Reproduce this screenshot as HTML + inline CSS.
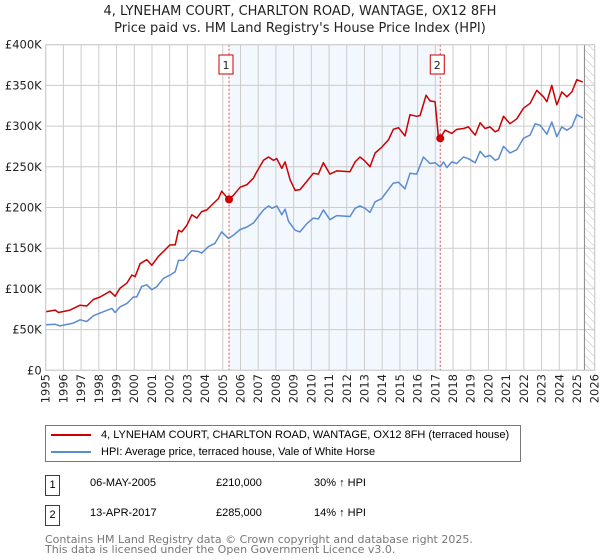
<!DOCTYPE html>
<html><head><meta charset="utf-8"><style>
body{margin:0;background:#fff;font-family:"DejaVu Sans","Liberation Sans",sans-serif;}
#wrap{position:relative;width:600px;height:560px;overflow:hidden;}
.t{position:absolute;white-space:nowrap;}
.ls{font-family:"Liberation Sans",sans-serif;}
</style></head><body>
<div id="wrap">
<div class="t" style="left:0;width:600px;text-align:center;top:3px;font-size:13px;color:#222;line-height:17px">4, LYNEHAM COURT, CHARLTON ROAD, WANTAGE, OX12 8FH<br>Price paid vs. HM Land Registry's House Price Index (HPI)</div>
<svg id="chart" width="600" height="420" style="position:absolute;left:0;top:0"></svg>
<div style="position:absolute;left:45px;top:425px;width:474px;height:35px;border:1px solid #777;">
 <div class="ls" style="position:absolute;left:5px;top:2px;font-size:11px;line-height:14px;white-space:nowrap"><span style="display:inline-block;width:40px;height:2px;background:#cc0000;vertical-align:middle;margin-right:10px"></span>4, LYNEHAM COURT, CHARLTON ROAD, WANTAGE, OX12 8FH (terraced house)</div>
 <div class="ls" style="position:absolute;left:5px;top:19px;font-size:11px;line-height:14px;white-space:nowrap"><span style="display:inline-block;width:40px;height:2px;background:#5b8bd0;vertical-align:middle;margin-right:10px"></span>HPI: Average price, terraced house, Vale of White Horse</div>
</div>
<div>
 <div class="t ls" style="left:45px;top:475px;width:13px;height:19px;border:1px solid #cc0000;font-size:11px;text-align:center;line-height:19px">1</div>
 <div class="t ls" style="left:90px;top:477px;font-size:11px">06-MAY-2005</div>
 <div class="t ls" style="left:216px;top:477px;font-size:11px">£210,000</div>
 <div class="t ls" style="left:314px;top:477px;font-size:11px">30% ↑ HPI</div>
</div>
<div>
 <div class="t ls" style="left:45px;top:505px;width:13px;height:19px;border:1px solid #cc0000;font-size:11px;text-align:center;line-height:19px">2</div>
 <div class="t ls" style="left:90px;top:507px;font-size:11px">13-APR-2017</div>
 <div class="t ls" style="left:216px;top:507px;font-size:11px">£285,000</div>
 <div class="t ls" style="left:314px;top:507px;font-size:11px">14% ↑ HPI</div>
</div>
<div class="t" style="left:45px;top:535px;font-size:11px;line-height:10px;color:#777">Contains HM Land Registry data © Crown copyright and database right 2025.<br>This data is licensed under the Open Government Licence v3.0.</div>
</div>
<script>
const yearTicks=[1995,1996,1997,1998,1999,2000,2001,2002,2003,2004,2005,2006,2007,2008,2009,2010,2011,2012,2013,2014,2015,2016,2017,2018,2019,2020,2021,2022,2023,2024,2025,2026];
const valueTicks=[0,50,100,150,200,250,300,350,400];
const valueLabels=["£0","£50K","£100K","£150K","£200K","£250K","£300K","£350K","£400K"];
const redYears=[1995.0,1995.53,1995.72,1996.37,1996.94,1997.32,1997.69,1998.07,1998.63,1998.92,1999.2,1999.58,1999.86,2000.05,2000.33,2000.71,2000.99,2001.37,2001.74,2002.02,2002.31,2002.5,2002.68,2002.97,2003.25,2003.53,2003.81,2004.1,2004.47,2004.76,2004.94,2005.32,2005.6,2005.98,2006.36,2006.73,2006.92,2007.3,2007.58,2007.86,2008.05,2008.33,2008.52,2008.8,2009.09,2009.36,2009.74,2010.11,2010.4,2010.68,2011.05,2011.43,2012.18,2012.47,2012.75,2013.03,2013.31,2013.6,2013.97,2014.35,2014.63,2014.92,2015.29,2015.57,2015.95,2016.14,2016.48,2016.7,2016.99,2017.18,2017.27,2017.55,2017.93,2018.21,2018.59,2018.87,2019.25,2019.53,2019.81,2020.09,2020.38,2020.57,2020.85,2021.22,2021.6,2021.98,2022.35,2022.73,2023.11,2023.3,2023.58,2023.86,2024.14,2024.43,2024.71,2024.99,2025.33];
const redValues=[72,74,71,74,80,79,87,90,97,91,101,107,117,115,131,136,129,140,148,154,154,172,170,178,191,187,195,197,205,211,220,210,215,225,228,236,244,258,262,258,260,248,256,234,221,222,232,242,241,255,241,245,244,256,262,257,250,267,274,283,296,298,288,314,312,313,338,331,330,285,285,295,291,296,297,299,289,304,297,299,293,295,312,303,309,322,328,344,336,330,350,326,342,336,342,357,354];
const blueYears=[1995.0,1995.53,1995.81,1996.56,1996.94,1997.32,1997.69,1998.26,1998.73,1998.92,1999.2,1999.58,1999.95,2000.14,2000.42,2000.71,2000.99,2001.28,2001.65,2002.02,2002.31,2002.5,2002.78,2002.97,2003.25,2003.62,2003.81,2004.19,2004.56,2004.94,2005.32,2005.6,2005.98,2006.36,2006.73,2007.01,2007.3,2007.58,2007.77,2008.05,2008.33,2008.52,2008.71,2009.09,2009.36,2009.74,2010.11,2010.4,2010.68,2011.05,2011.43,2012.18,2012.47,2012.75,2013.03,2013.31,2013.6,2013.97,2014.35,2014.63,2014.92,2015.29,2015.57,2015.95,2016.33,2016.7,2016.99,2017.27,2017.46,2017.65,2017.93,2018.21,2018.59,2018.87,2019.25,2019.53,2019.81,2020.09,2020.38,2020.57,2020.85,2021.22,2021.6,2021.98,2022.35,2022.64,2022.92,2023.3,2023.58,2023.86,2024.14,2024.43,2024.71,2024.99,2025.33];
const blueValues=[56,56.5,54.5,58,62,60,67,72,76,71,78,82,90,90,103,105,99,103,113,117,121,135,135,140,147,146,144,152,156,170,162,166,173,176,181,189,197,202,199,202,191,198,183,172,170,180,187,186,197,185,190,189,199,202,199,194,207,211,222,230,231,223,242,241,262,254,255,250,256,249,256,254,262,260,255,269,262,264,258,260,275,267,271,285,289,303,301,290,305,287,299,295,299,314,310];
const sales=[{year:2005.35,value:210,label:"1"},{year:2017.28,value:285,label:"2"}];

const svg=document.getElementById('chart');
const NS='http://www.w3.org/2000/svg';
const X0=45.7,X1=594.7,Y0=370.3,Y1=44.7;
const xs=y=>X0+(y-1995)/31*(X1-X0);
const ys=v=>Y0-v/400*(Y0-Y1);
function mk(tag,attrs,parent){const e=document.createElementNS(NS,tag);for(const k in attrs)e.setAttribute(k,attrs[k]);(parent||svg).appendChild(e);return e;}

const band=mk('rect',{x:xs(sales[0].year),y:Y1,width:xs(sales[1].year)-xs(sales[0].year),height:Y0-Y1,fill:'#eef3fd',opacity:0.7});


const defs=mk('defs',{});
const pat=mk('pattern',{id:'hatch',width:6,height:6,patternUnits:'userSpaceOnUse',patternTransform:'rotate(-45)'},defs);
mk('line',{x1:0,y1:0,x2:0,y2:6,stroke:'#bbb','stroke-width':1},pat);
const hatch=mk('rect',{x:xs(2025.42),y:Y1,width:X1-xs(2025.42),height:Y0-Y1,fill:'url(#hatch)'});



yearTicks.forEach(t=>{
  const l=mk('line',{x1:xs(t),x2:xs(t),y1:Y1,y2:Y0,stroke:'#ccc','stroke-width':1});
  
  
  const tx=mk('text',{x:0,y:0,transform:`translate(${xs(t)+4},${Y0+33}) rotate(-90)`,'font-size':11.5,fill:'#222','font-family':'DejaVu Sans, Liberation Sans, sans-serif'});
  tx.textContent=t;
  
  
});
valueTicks.forEach((v,i)=>{
  const l=mk('line',{x1:X0,x2:X1,y1:ys(v),y2:ys(v),stroke:'#ccc','stroke-width':1});
  
  
  const tx=mk('text',{x:X0-4,y:ys(v)+4,'text-anchor':'end','font-size':11.5,fill:'#222','font-family':'DejaVu Sans, Liberation Sans, sans-serif'});
  tx.textContent=valueLabels[i];
  
  
});
const endLine=mk('line',{x1:xs(2025.42),x2:xs(2025.42),y1:Y1,y2:Y0,stroke:'#888','stroke-width':1});



sales.forEach(s=>{
  const l=mk('line',{x1:xs(s.year),x2:xs(s.year),y1:Y1,y2:Y0,stroke:'#e05555','stroke-width':1,'stroke-dasharray':'2,2'});
  
  
  const g=mk('g',{});
  
  
  mk('rect',{x:xs(s.year)-7-3,y:55,width:14,height:19,fill:'#fff',stroke:'#cc0000'},g);
  const tx=mk('text',{x:xs(s.year)-3,y:69,'text-anchor':'middle','font-size':11,fill:'#222','font-family':'DejaVu Sans, sans-serif'},g);
  tx.textContent=s.label;
});

function path(yrs,vals,color,name){
  const d=yrs.map((y,i)=>(i?'L':'M')+xs(y).toFixed(1)+','+ys(vals[i]).toFixed(1)).join('');
  const p=mk('path',{d:d,fill:'none',stroke:color,'stroke-width':1.5,'stroke-linejoin':'round'});
  
  
}
path(blueYears,blueValues,'#5b8bd0','hpi-line');
path(redYears,redValues,'#cc0000','price-paid-line');
sales.forEach(s=>{
  const c=mk('circle',{cx:xs(s.year),cy:ys(s.value),r:4,fill:'#cc0000'});
  
  
});
const frame=mk('rect',{x:X0,y:Y1,width:X1-X0,height:Y0-Y1,fill:'none',stroke:'#ccc'});


</script>
</body></html>
